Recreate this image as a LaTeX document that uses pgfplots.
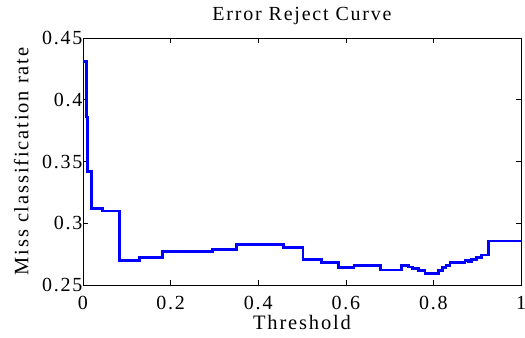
\documentclass[border=0pt]{standalone}
\usepackage{fontspec}
\setmainfont{Liberation Serif}[LetterSpace=9]
\usepackage{pgfplots}
\pgfplotsset{compat=1.18}
\begin{document}
\begin{tikzpicture}
\begin{axis}[
  name=ax,
  scale only axis,
  width=438pt, height=247pt,
  xmin=0, xmax=1, ymin=0.25, ymax=0.45,
  xtick={0,0.2,0.4,0.6,0.8,1},
  ytick={0.25,0.3,0.35,0.4,0.45},
  xticklabels={0,0.2,0.4,0.6,0.8,1},
  yticklabels={0.25,0.3,0.35,0.4,0.45},
  tick align=inside,
  major tick length=5pt,
  tick style={black, line width=0.6pt},
  axis line style={black, line width=0.8pt},
  tick label style={font=\fontsize{20}{22}\selectfont},
  xticklabel style={anchor=base, yshift=-25pt},
  yticklabel style={anchor=east, xshift=3pt},
  label style={font=\fontsize{20.5}{22}\selectfont},
  xlabel={Threshold},
  ylabel={Miss classification rate},
  xlabel style={at={(axis description cs:0.5,-0.1794)}, anchor=base},
  ylabel style={at={(axis description cs:-0.1249,0.5)}, anchor=base},
  every axis title shift=0pt,
  title={Error Reject Curve},
  title style={font=\fontsize{20}{22}\selectfont, at={(axis description cs:0.5,1.070)}, anchor=base},
]
\addplot[const plot mark left, blue, line width=2.7pt] coordinates {
(0, 0.431)
(0.0085, 0.386)
(0.011, 0.342)
(0.020, 0.312)
(0.045, 0.310)
(0.084, 0.270)
(0.129, 0.272)
(0.181, 0.277)
(0.296, 0.279)
(0.351, 0.283)
(0.457, 0.2805)
(0.502, 0.2708)
(0.545, 0.2684)
(0.584, 0.264)
(0.619, 0.266)
(0.680, 0.2622)
(0.727, 0.266)
(0.743, 0.2645)
(0.753, 0.2632)
(0.766, 0.262)
(0.781, 0.2595)
(0.811, 0.262)
(0.821, 0.2639)
(0.829, 0.266)
(0.838, 0.268)
(0.872, 0.2697)
(0.880, 0.2689)
(0.887, 0.2708)
(0.899, 0.2724)
(0.910, 0.2743)
(0.925, 0.2856)
(1.0, 0.2856)
};
\end{axis}
\pgfresetboundingbox
\path ([shift={(-83pt,-53pt)}]ax.south west) rectangle ([shift={(4pt,38pt)}]ax.north east);
\end{tikzpicture}
\end{document}
